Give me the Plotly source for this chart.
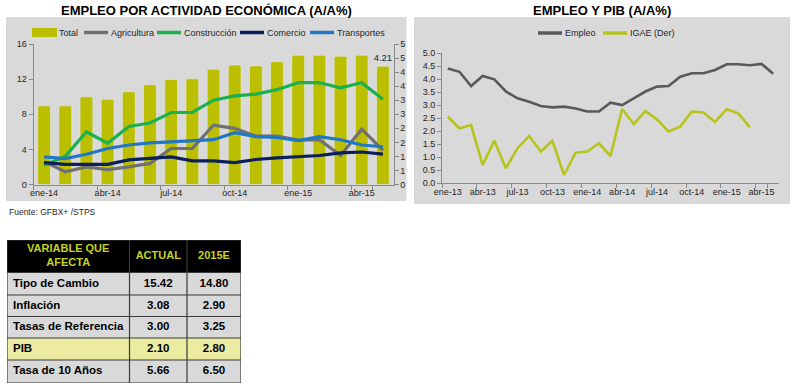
import plotly.graph_objects as go

W, H = 793, 387

# ---------------- data ----------------
meses_izq = ['ene-14', 'feb-14', 'mar-14', 'abr-14', 'may-14', 'jun-14', 'jul-14', 'ago-14',
             'sep-14', 'oct-14', 'nov-14', 'dic-14', 'ene-15', 'feb-15', 'mar-15', 'abr-15', 'may-15']
total = [2.80, 2.80, 3.12, 3.03, 3.30, 3.55, 3.74, 3.76, 4.10, 4.25, 4.22, 4.37, 4.60, 4.60, 4.56, 4.60, 4.21]
agricultura = [2.6, 1.45, 2.0, 1.7, 2.0, 2.4, 4.1, 4.1, 6.75, 6.4, 5.5, 5.5, 5.05, 5.1, 3.3, 6.3, 3.9]
construccion = [2.2, 3.2, 6.0, 4.7, 6.6, 7.0, 8.2, 8.2, 9.6, 10.1, 10.3, 10.8, 11.6, 11.6, 11.0, 11.6, 9.7]
comercio = [2.5, 2.3, 2.3, 2.3, 2.8, 3.0, 3.15, 2.7, 2.7, 2.5, 2.85, 3.04, 3.15, 3.3, 3.6, 3.7, 3.45]
transportes = [3.15, 2.95, 3.45, 4.1, 4.5, 4.75, 4.85, 5.0, 5.1, 5.9, 5.45, 5.35, 5.0, 5.45, 5.1, 4.5, 4.3]

meses_der = ['ene-13', 'feb-13', 'mar-13', 'abr-13', 'may-13', 'jun-13', 'jul-13', 'ago-13', 'sep-13',
             'oct-13', 'nov-13', 'dic-13'] + meses_izq
empleo = [4.42, 4.29, 3.74, 4.13, 4.00, 3.53, 3.27, 3.14, 2.97, 2.92, 2.95, 2.88,
          2.76, 2.76, 3.10, 3.01, 3.27, 3.53, 3.72, 3.74, 4.10, 4.23, 4.23, 4.36, 4.58, 4.58, 4.54, 4.59, 4.21]
igae = [2.56, 2.12, 2.24, 0.71, 1.64, 0.58, 1.35, 1.82, 1.22, 1.63, 0.32, 1.18,
        1.22, 1.54, 1.05, 2.86, 2.28, 2.78, 2.46, 1.99, 2.18, 2.76, 2.72, 2.36, 2.85, 2.69, 2.15, None, None]

y_izq_ticks = [0, 4, 8, 12, 16]
y_der_ticks = [0, 0.5, 1, 1.5, 2, 2.5, 3, 3.5, 4, 4.5, 5]
y_der_labels = ['0', '1', '1', '2', '2', '3', '3', '4', '4', '5', '5']
y_pib_ticks = [0, 0.5, 1, 1.5, 2, 2.5, 3, 3.5, 4, 4.5, 5]

tabla_encabezado = ['VARIABLE QUE<br>AFECTA', 'ACTUAL', '2015E']
tabla_variables = ['Tipo de Cambio', 'Inflación', 'Tasas de Referencia', 'PIB', 'Tasa de 10 Años']
tabla_actual = [15.42, 3.08, 3.00, 2.10, 5.66]
tabla_2015e = [14.80, 2.90, 3.25, 2.80, 6.50]
tabla_resaltada = 'PIB'

# ---------------- layout / styles ----------------
FONT = 'Liberation Sans, Arial, sans-serif'
GRIS_PANEL = '#d9d9d9'
C_TOTAL = '#bcbf00'
C_AGR = '#707070'
C_CON = '#1db04f'
C_COM = '#0c1f5a'
C_TRA = '#1f77c6'
C_EMP = '#5a5a5a'
C_IGAE = '#b7c41c'
AX = '#8a8a8a'
TXT = '#262626'
C_HDR_TXT = '#c5d31a'
C_PIB = '#ebeba2'

# table geometry (pixel units inside the table box)
TAB_X, TAB_Y = 7, 240
tab_col_bordes = [0, 122.5, 180, 234]
tab_fila_bordes = [0, 32.5, 55, 76.5, 98, 120, 143]


def px(x):
    return x / W


def py(y):
    return 1 - y / H


fig = go.Figure()

fig.add_trace(go.Bar(x=meses_izq, y=total, name='Total', marker_color=C_TOTAL, xaxis='x', yaxis='y',
                     text=['' if i < len(total) - 1 else f'{v:.2f}' for i, v in enumerate(total)],
                     textposition='outside', cliponaxis=False, constraintext='none',
                     textfont=dict(size=9.5, color=TXT, family=FONT), showlegend=False))
for nombre, vals, col in [('Agricultura', agricultura, C_AGR), ('Construcción', construccion, C_CON),
                          ('Comercio', comercio, C_COM), ('Transportes', transportes, C_TRA)]:
    fig.add_trace(go.Scatter(x=meses_izq, y=vals, name=nombre, mode='lines', xaxis='x', yaxis='y2',
                             line=dict(color=col, width=3.2), showlegend=False))

fig.add_trace(go.Scatter(x=meses_der, y=empleo, name='Empleo', mode='lines', xaxis='x2', yaxis='y3',
                         line=dict(color=C_EMP, width=2.6), showlegend=False))
fig.add_trace(go.Scatter(x=meses_der, y=igae, name='IGAE (Der)', mode='lines', xaxis='x2', yaxis='y3',
                         line=dict(color=C_IGAE, width=2.6), showlegend=False))

# table: cell fills as a heatmap on its own hidden axes, texts as text scatters
n_rows = len(tabla_variables) + 1
z = [[0, 0, 0]] + [[2 if v == tabla_resaltada else 1] * 3 for v in tabla_variables]
fig.add_trace(go.Heatmap(x=tab_col_bordes, y=tab_fila_bordes, z=z, xaxis='x3', yaxis='y4',
                         colorscale=[[0, 'black'], [0.5, GRIS_PANEL], [1, C_PIB]], zmin=0, zmax=2,
                         showscale=False, hoverinfo='skip'))
row_c = [(tab_fila_bordes[i] + tab_fila_bordes[i + 1]) / 2 for i in range(n_rows)]
col_c = [(tab_col_bordes[i] + tab_col_bordes[i + 1]) / 2 for i in range(3)]
fig.add_trace(go.Scatter(x=col_c, y=[row_c[0]] * 3, mode='text', xaxis='x3', yaxis='y4',
                         text=[f'<b>{t}</b>' for t in tabla_encabezado], textposition='middle center',
                         textfont=dict(size=11, color=C_HDR_TXT, family=FONT), showlegend=False,
                         hoverinfo='skip', cliponaxis=True))
fig.add_trace(go.Scatter(x=[tab_col_bordes[0] + 6] * len(tabla_variables), y=row_c[1:], mode='text',
                         xaxis='x3', yaxis='y4', text=[f'<b>{t}</b>' for t in tabla_variables],
                         textposition='middle right', textfont=dict(size=11.5, color='black', family=FONT),
                         showlegend=False, hoverinfo='skip', cliponaxis=True))
for ci, vals in [(1, tabla_actual), (2, tabla_2015e)]:
    fig.add_trace(go.Scatter(x=[col_c[ci]] * len(vals), y=row_c[1:], mode='text', xaxis='x3', yaxis='y4',
                             text=[f'<b>{v:.2f}</b>' for v in vals], textposition='middle center',
                             textfont=dict(size=11.5, color='black', family=FONT), showlegend=False,
                             hoverinfo='skip', cliponaxis=True))

axis_common = dict(showline=True, linecolor=AX, linewidth=1, ticks='outside', ticklen=4, tickcolor=AX,
                   showgrid=False, zeroline=False, tickfont=dict(size=9, color=TXT, family=FONT))

fig.update_layout(
    width=W, height=H, margin=dict(l=0, r=0, t=0, b=0, pad=0, autoexpand=False),
    paper_bgcolor='white', plot_bgcolor=GRIS_PANEL,
    bargap=0.4, barcornerradius=2, showlegend=False,
    font=dict(family=FONT, color=TXT),
    xaxis=dict(domain=[px(33.5), px(393.5)], type='category', anchor='y2', tickangle=0,
               range=[-0.5, len(meses_izq) - 0.5],
               tickmode='array', tickvals=meses_izq[::3], tickson='boundaries', **axis_common),
    yaxis=dict(domain=[py(184.5), py(44)], side='right', range=[0, 5], anchor='x',
               tickmode='array', tickvals=y_der_ticks, ticktext=y_der_labels, **axis_common),
    yaxis2=dict(overlaying='y', side='left', range=[0, 16], anchor='x',
                tickmode='array', tickvals=y_izq_ticks, **axis_common),
    xaxis2=dict(domain=[px(442), px(779)], type='category', anchor='y3', tickangle=0,
                range=[-0.5, len(meses_der) - 0.5],
                tickmode='array', tickvals=meses_der[::3], tickson='boundaries', **axis_common),
    yaxis3=dict(domain=[py(183.3), py(53.3)], range=[0, 5], anchor='x2',
                tickmode='array', tickvals=y_pib_ticks, tickformat='.1f', **axis_common),
    xaxis3=dict(domain=[px(TAB_X), px(TAB_X + tab_col_bordes[-1])], range=[tab_col_bordes[0], tab_col_bordes[-1]],
                visible=False, anchor='y4', fixedrange=True),
    yaxis4=dict(domain=[py(TAB_Y + tab_fila_bordes[-1]), py(TAB_Y)],
                range=[tab_fila_bordes[-1], tab_fila_bordes[0]], visible=False, anchor='x3', fixedrange=True),
)

shapes = [
    dict(type='rect', xref='paper', yref='paper', x0=px(6), x1=px(406.5), y0=py(201), y1=py(17),
         fillcolor=GRIS_PANEL, line=dict(width=0), layer='below'),
    dict(type='rect', xref='paper', yref='paper', x0=px(414), x1=px(790), y0=py(204), y1=py(17),
         fillcolor=GRIS_PANEL, line=dict(width=0), layer='below'),
]
for xb in tab_col_bordes:
    shapes.append(dict(type='line', xref='x3', yref='y4', x0=xb, x1=xb, y0=tab_fila_bordes[0],
                       y1=tab_fila_bordes[-1], line=dict(color='#3a3a3a', width=1.2), layer='above'))
for yb in tab_fila_bordes:
    shapes.append(dict(type='line', xref='x3', yref='y4', x0=tab_col_bordes[0], x1=tab_col_bordes[-1],
                       y0=yb, y1=yb, line=dict(color='#3a3a3a', width=1.2), layer='above'))

annotations = [
    dict(text='<b>EMPLEO POR ACTIVIDAD ECONÓMICA (A/A%)</b>', x=px(206), y=py(10), xref='paper', yref='paper',
         showarrow=False, xanchor='center', yanchor='middle', font=dict(size=13, color='black', family=FONT)),
    dict(text='<b>EMPLEO Y PIB (A/A%)</b>', x=px(602), y=py(10), xref='paper', yref='paper',
         showarrow=False, xanchor='center', yanchor='middle', font=dict(size=13, color='black', family=FONT)),
    dict(text='Fuente: GFBX+ /STPS', x=px(7), y=py(212), xref='paper', yref='paper',
         showarrow=False, xanchor='left', yanchor='middle', font=dict(size=8.5, color=TXT, family=FONT)),
]

ley_izq = [('Total', C_TOTAL, 32, 'box'), ('Agricultura', C_AGR, 84, 'line'), ('Construcción', C_CON, 157, 'line'),
           ('Comercio', C_COM, 240, 'line'), ('Transportes', C_TRA, 310, 'line')]
ley_der = [('Empleo', C_EMP, 538, 'line'), ('IGAE (Der)', C_IGAE, 603, 'line')]
for items, yc in [(ley_izq, 32.5), (ley_der, 33)]:
    for nombre, col, x0, kind in items:
        if kind == 'box':
            shapes.append(dict(type='rect', xref='paper', yref='paper', x0=px(x0), x1=px(x0 + 25),
                               y0=py(yc + 4.5), y1=py(yc - 4.5), fillcolor=col, line=dict(width=0)))
        else:
            shapes.append(dict(type='line', xref='paper', yref='paper', x0=px(x0), x1=px(x0 + 24),
                               y0=py(yc), y1=py(yc), line=dict(color=col, width=3.5)))
        annotations.append(dict(text=nombre, x=px(x0 + 25), y=py(yc), xref='paper', yref='paper',
                                showarrow=False, xanchor='left', yanchor='middle',
                                font=dict(size=9, color=TXT, family=FONT)))

fig.update_layout(shapes=shapes, annotations=annotations)
# remove the browser's default 8px body margin so the figure sits at the window's top-left corner
fig.write_html('out.html', config={'displayModeBar': False, 'staticPlot': True},
               post_script="document.body.style.margin='0';document.body.style.overflow='hidden';")
